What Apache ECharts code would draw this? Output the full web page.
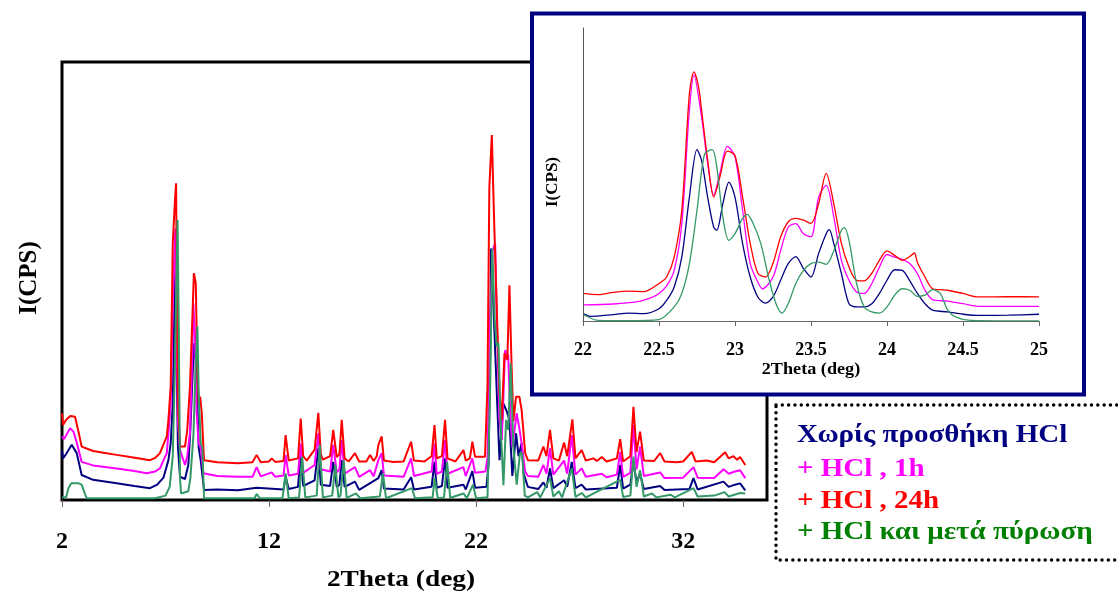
<!DOCTYPE html>
<html>
<head>
<meta charset="utf-8">
<script src="https://cdn.jsdelivr.net/npm/echarts@6/dist/echarts.min.js"></script>
<style>html,body{margin:0;padding:0;background:#fff;}#c{width:1118px;height:596px;}</style>
</head>
<body>
<div id="c"></div>
<script>
// ---------- DATA ----------
const seriesNames = ['Χωρίς προσθήκη HCl', '+ HCl , 1h', '+ HCl , 24h', '+ HCl και μετά πύρωση'];
const mainTicks = [2, 12, 22, 32];
const insetTicks = [22, 22.5, 23, 23.5, 24, 24.5, 25];

// main pattern [2theta, intensity]
const mainNavy = [[2.0,11.4],[2.05,9.5],[2.2,10.5],[2.47,12.6],[2.71,10.7],[2.95,5.7],[3.5,4.6],[4.64,3.8],[5.5,3.2],[6.25,2.7],[6.6,3.5],[6.9,5.1],[7.14,9.1],[7.25,13],[7.35,22],[7.46,53.3],[7.52,35],[7.6,12],[7.7,5.3],[7.94,4.8],[8.1,8],[8.2,16],[8.37,35.8],[8.5,30],[8.6,12],[8.7,9],[8.86,2.3],[9.5,2.4],[10.5,2.2],[11.4,2.8],[12.7,2.4],[12.8,5.3],[12.95,2.5],[13.4,3],[13.53,10.7],[13.65,3.2],[14.2,4.5],[14.38,11.8],[14.5,3.5],[14.95,3.2],[15.1,8.7],[15.27,3],[15.4,3.5],[15.51,9.1],[15.65,3],[16.15,4.2],[16.35,2.3],[17.28,5],[17.44,6.8],[17.55,2.6],[18.5,2.4],[18.86,5.2],[19.0,2.4],[19.85,3],[19.99,8.7],[20.1,2.8],[20.35,3.2],[20.5,9.5],[20.62,2.8],[21.39,3.5],[21.5,2.4],[21.82,6.6],[21.95,2.8],[22.5,3],[22.6,8],[22.68,33.5],[22.72,57.4],[22.84,44.1],[23.0,24.4],[23.13,9.1],[23.32,22],[23.5,20],[23.61,18.3],[23.75,5.5],[23.93,15.2],[24.05,10],[24.2,13],[24.3,6],[24.5,3],[25.0,2.5],[25.25,4],[25.4,2.8],[25.57,7.2],[25.73,2.7],[26.25,4.5],[26.4,3],[26.62,8.7],[26.8,2.7],[27.1,3.5],[27.3,2.4],[28.8,2.8],[28.96,8],[29.1,2.6],[29.45,3.5],[29.6,8.7],[29.75,4],[29.92,6],[30.1,2.5],[30.89,3.2],[31.1,2.3],[32.3,2.5],[32.5,5],[32.7,2.4],[33.95,4.2],[34.2,3],[34.5,3.5],[34.75,3.8],[35.0,2.2]];
const mainMagenta = [[2.0,14.5],[2.1,13.9],[2.39,16.4],[2.55,15.6],[2.71,13.2],[2.95,8.7],[3.5,7.9],[4.64,7.2],[5.5,6.6],[6.09,6.1],[6.5,6.5],[6.73,7.2],[7.06,10.7],[7.14,15.2],[7.25,22],[7.35,45],[7.47,62],[7.53,40],[7.6,18],[7.7,11.4],[7.94,8],[8.05,10],[8.18,15.5],[8.3,34.2],[8.34,44.9],[8.42,38],[8.5,20],[8.6,13],[8.7,12],[8.83,6.1],[9.5,5.5],[10.5,5.3],[11.2,5.3],[11.4,7.5],[11.6,5.4],[12.13,6.3],[12.3,5.3],[12.7,5.6],[12.8,10.3],[12.95,5.6],[13.4,6],[13.53,12.9],[13.65,6.2],[14.2,8],[14.38,15.2],[14.5,7],[14.95,6.5],[15.1,12.6],[15.27,6.3],[15.4,7],[15.51,13.7],[15.65,6],[16.15,7.5],[16.35,5.3],[16.88,6.8],[17.05,5.4],[17.28,9.1],[17.44,10.7],[17.55,5.6],[18.5,5.3],[18.86,9.5],[19.0,5.5],[19.85,6.5],[19.99,12.9],[20.1,6],[20.35,6.5],[20.5,13.7],[20.62,6],[21.39,7.5],[21.5,5.5],[21.82,9.5],[21.95,6.2],[22.45,6.5],[22.55,9.5],[22.68,41],[22.8,57],[22.92,58.6],[23.0,41],[23.13,18.3],[23.24,13.7],[23.4,34.2],[23.55,33],[23.65,20],[23.75,12.2],[23.96,19.8],[24.1,16],[24.2,13],[24.37,6.5],[24.5,5.5],[25.0,5.3],[25.25,8],[25.4,6],[25.57,11.8],[25.73,5.8],[26.25,9],[26.4,6],[26.62,14.8],[26.8,5.8],[27.1,7.2],[27.3,5.3],[28.07,6],[28.3,5.2],[28.8,5.8],[28.96,11],[29.1,5.3],[29.45,6.2],[29.6,17.1],[29.75,7],[29.92,12.2],[30.1,5.5],[30.89,6.3],[31.1,5.0],[32.0,5.1],[32.5,7.5],[32.7,5.1],[33.5,5.0],[33.95,7],[34.2,6],[34.5,6.5],[34.75,6.8],[35.0,5.0]];
const mainRed = [[2.0,19.8],[2.05,17.1],[2.2,18.3],[2.4,19.2],[2.63,19.0],[2.8,15.5],[2.95,12.2],[3.5,11.2],[4.0,10.8],[4.64,10.3],[5.3,9.8],[6.25,9.1],[6.5,9.6],[6.73,10.7],[7.06,14.5],[7.14,18.3],[7.25,25.9],[7.35,58.6],[7.45,68],[7.51,72.3],[7.56,40],[7.62,20],[7.7,12.2],[7.94,12.2],[8.05,16],[8.18,25.9],[8.31,43.4],[8.37,51.8],[8.46,49.5],[8.54,29.7],[8.6,22],[8.67,23.6],[8.75,19.9],[8.86,9.1],[9.5,8.6],[10.5,8.4],[11.2,8.6],[11.4,10.3],[11.6,8.6],[12.0,8.8],[12.13,9.5],[12.3,8.7],[12.7,8.9],[12.8,14.8],[12.95,9.0],[13.4,9.5],[13.53,18.6],[13.65,10],[13.82,9.0],[14.2,11.5],[14.38,19.9],[14.5,10.5],[14.6,9.2],[14.95,10],[15.1,16],[15.27,9.8],[15.4,10.5],[15.51,18.3],[15.65,9.5],[15.85,8.8],[16.15,10.7],[16.35,8.8],[16.7,8.8],[16.88,10.3],[17.05,8.9],[17.2,10],[17.28,12.6],[17.44,14.5],[17.55,9],[18.0,8.7],[18.5,8.8],[18.86,13.3],[19.0,9],[19.5,8.8],[19.85,10],[19.99,17.1],[20.1,9.5],[20.35,10],[20.5,18.3],[20.62,9.5],[21.0,8.8],[21.39,11.4],[21.5,9],[21.7,9.5],[21.82,13.3],[21.95,9.9],[22.43,9.9],[22.55,25.9],[22.64,71.5],[22.76,83.3],[22.87,63.9],[23.0,43.4],[23.13,24.4],[23.24,18.3],[23.37,33.5],[23.51,32],[23.61,49],[23.72,29.7],[23.8,18],[23.93,23.6],[24.09,23.6],[24.2,20.5],[24.37,10.7],[24.5,9.1],[25.0,9],[25.25,12.2],[25.4,10],[25.57,16],[25.73,9.5],[26.0,9],[26.25,13.1],[26.4,10],[26.65,18.4],[26.8,9.5],[27.1,11.4],[27.3,9],[27.67,9.5],[27.83,8.9],[28.07,9.8],[28.3,8.8],[28.8,9.5],[28.96,13.9],[29.1,8.8],[29.45,10],[29.6,21.3],[29.75,11],[29.92,15.6],[30.1,9],[30.6,8.9],[30.89,10.7],[31.1,8.8],[31.7,8.6],[32.0,8.8],[32.42,11],[32.6,8.8],[33.14,9.0],[33.5,8.6],[34.03,10.9],[34.2,9.5],[34.43,10],[34.6,9.2],[34.75,9.8],[35.0,8.0]];
const mainGreen = [[2.0,0.6],[2.2,0.6],[2.31,2.7],[2.45,3.8],[2.8,3.8],[2.95,3.5],[3.1,1.5],[3.19,0.4],[5.5,0.4],[6.5,0.4],[7.0,1],[7.2,3],[7.35,10],[7.45,30],[7.58,63.9],[7.64,40],[7.7,5],[7.75,1.5],[8.1,2],[8.2,5],[8.35,15],[8.45,30],[8.54,39.6],[8.6,25],[8.7,13],[8.78,12],[8.86,0.4],[11.3,0.4],[11.4,1.4],[11.55,0.4],[12.65,0.4],[12.8,6.1],[12.95,0.4],[13.45,0.6],[13.6,9.9],[13.75,0.6],[14.3,1],[14.45,12.6],[14.6,0.6],[15.05,1],[15.2,8],[15.35,0.6],[15.45,1],[15.6,9.1],[15.75,0.5],[16.2,1.5],[16.4,0.4],[17.35,0.8],[17.5,6.1],[17.65,0.4],[18.9,2.7],[19.05,0.4],[19.9,0.6],[20.0,5.0],[20.15,0.4],[20.45,0.6],[20.6,8.7],[20.75,0.5],[21.4,1.5],[21.55,0.4],[21.85,3.5],[22.0,0.4],[22.55,0.6],[22.68,25.9],[22.78,57.4],[22.9,41],[23.0,35],[23.08,35.8],[23.2,15.2],[23.32,3.4],[23.45,18.3],[23.55,16],[23.67,31.2],[23.8,12],[23.96,3.5],[24.12,10.7],[24.22,10.7],[24.35,1],[24.5,0.6],[24.95,1.8],[25.1,0.6],[25.57,5],[25.73,0.8],[26.0,2],[26.15,0.6],[26.62,7.2],[26.8,0.7],[27.1,1.6],[27.3,0.6],[28.96,4.6],[29.1,0.7],[29.45,1],[29.6,9.9],[29.75,3],[29.92,6.8],[30.1,0.8],[30.5,1.5],[30.7,0.6],[31.4,1.2],[31.6,0.6],[32.5,2.7],[32.7,0.8],[33.5,1],[34.0,1.8],[34.2,0.8],[34.75,1.6],[35.0,1.5]];

// inset pattern (22–25 deg) [2theta, intensity]
const insetNavy = [[22.0,2.5],[22.05,1.6],[22.2,2.2],[22.3,2.7],[22.4,2.5],[22.5,4.2],[22.55,7],[22.6,11.6],[22.65,21.8],[22.7,42.3],[22.75,58.5],[22.78,54.8],[22.82,42.3],[22.86,32],[22.88,31],[22.92,40],[22.96,47.4],[23.0,42.3],[23.05,26.4],[23.1,15],[23.15,8.2],[23.2,6.1],[23.25,8.2],[23.3,13.9],[23.35,19.6],[23.4,22],[23.45,17.9],[23.5,15],[23.55,23],[23.6,29.8],[23.62,31.2],[23.65,26.4],[23.7,16.2],[23.75,5.9],[23.8,4.8],[23.85,4.8],[23.9,5.9],[23.95,9.4],[24.0,13.9],[24.05,17.5],[24.1,17.3],[24.15,13.7],[24.2,9.4],[24.25,5.9],[24.3,3.7],[24.4,3.1],[24.5,2.3],[24.6,1.9],[24.8,2.0],[25.0,2.3]];
const insetMagenta = [[22.0,5.5],[22.2,5.8],[22.35,6.5],[22.45,8],[22.5,9.4],[22.55,12],[22.6,17.3],[22.65,33.2],[22.7,72],[22.73,83.9],[22.78,69.6],[22.82,53.8],[22.86,42.9],[22.9,50.3],[22.95,59.6],[23.0,56],[23.05,37.8],[23.1,19.6],[23.15,13.3],[23.18,11],[23.25,15],[23.3,24],[23.35,32],[23.4,33.2],[23.45,29.8],[23.5,28.7],[23.55,42.3],[23.6,46.3],[23.65,35.5],[23.7,20.7],[23.75,13.9],[23.8,9.9],[23.85,9.4],[23.9,12.8],[23.95,18.4],[24.0,22.7],[24.05,21.8],[24.1,21],[24.15,19.6],[24.2,16.2],[24.25,10.5],[24.3,7.3],[24.4,6.8],[24.5,5.9],[24.6,5],[25.0,5]];
const insetRed = [[22.0,9.4],[22.1,9.0],[22.2,9.8],[22.3,10.2],[22.4,10.0],[22.5,12.8],[22.55,15],[22.6,21.8],[22.65,37.8],[22.7,77.6],[22.73,85],[22.76,80],[22.78,72],[22.82,55],[22.86,42.3],[22.9,49],[22.95,58],[23.0,56.5],[23.05,42.3],[23.1,26.5],[23.15,16.3],[23.2,15],[23.25,19.7],[23.3,28.7],[23.35,33.8],[23.4,35],[23.45,34.4],[23.5,33.3],[23.55,40],[23.6,50.4],[23.65,40],[23.7,26.5],[23.75,18.4],[23.8,13.9],[23.85,13.7],[23.9,16.3],[23.95,20.7],[24.0,23.9],[24.05,22.4],[24.1,20.7],[24.15,22],[24.18,23.2],[24.2,20],[24.25,15],[24.3,11],[24.35,10.7],[24.4,10.5],[24.5,9.4],[24.6,8.2],[24.8,8.3],[25.0,8.2]];
const insetGreen = [[22.0,2.3],[22.1,0.2],[22.3,0.1],[22.5,0.5],[22.6,4.8],[22.65,9.4],[22.7,19.6],[22.75,37.8],[22.8,57],[22.85,58.5],[22.88,52.6],[22.92,35.5],[22.96,27.5],[23.0,29.8],[23.05,35],[23.08,36.4],[23.12,33.2],[23.17,26.4],[23.22,15],[23.27,5.9],[23.31,2.7],[23.35,5.9],[23.4,12.8],[23.45,17.3],[23.5,19.6],[23.55,20.1],[23.6,19.3],[23.65,24],[23.7,31],[23.72,31.9],[23.75,27.5],[23.8,12.8],[23.85,4.8],[23.9,3.1],[23.95,2.7],[24.0,4.8],[24.05,8.8],[24.1,11],[24.15,10.5],[24.2,8.4],[24.25,8.8],[24.3,10.7],[24.35,9.4],[24.4,3.7],[24.45,1.4],[24.55,0.2],[25.0,0]];

// ---------- STYLE ----------
const FONT = '"Liberation Serif", "Times New Roman", serif';
const lineColors = ['#000080', '#FF00FF', '#FF0000', '#339966'];
const textColors = ['#000080', '#FF00FF', '#FF0000', '#008000'];

const mainData = [mainNavy, mainMagenta, mainRed, mainGreen];
const insetData = [insetNavy, insetMagenta, insetRed, insetGreen];

const series = [];
mainData.forEach((d, i) => series.push({
  type: 'line', name: seriesNames[i], xAxisIndex: 0, yAxisIndex: 0, data: d,
  showSymbol: false, lineStyle: { color: lineColors[i], width: 2 }, z: 2, silent: true, animation: false
}));
insetData.forEach((d, i) => series.push({
  type: 'line', name: seriesNames[i] + ' (inset)', xAxisIndex: 1, yAxisIndex: 1, data: d,
  showSymbol: false, smooth: 0.3, lineStyle: { color: lineColors[i], width: 1.3 }, z: 4, silent: true, animation: false
}));

const legendY = [436, 470, 502, 533];

function txt(t, x, y, size, opts) {
  opts = opts || {};
  return {
    type: 'text', z: 6, x: x, y: y, rotation: opts.rotation || 0,
    scaleX: opts.sx || 1, scaleY: 1,
    style: { text: t, x: 0, y: 0, align: opts.align || 'center', verticalAlign: 'middle',
             font: 'bold ' + size + 'px ' + FONT, fill: opts.fill || '#000' }
  };
}

const option = {
  animation: false,
  backgroundColor: '#ffffff',
  grid: [
    { left: 62, top: 62, width: 705, height: 438, show: true, borderColor: '#000', borderWidth: 3, backgroundColor: 'transparent' },
    { left: 583, top: 28, width: 456, height: 293, show: false }
  ],
  xAxis: [
    { type: 'value', gridIndex: 0, min: 2, max: 36.05,
      axisLine: { show: false }, splitLine: { show: false },
      axisTick: { show: true, customValues: mainTicks, length: 7, lineStyle: { color: '#666', width: 1 } },
      axisLabel: { customValues: mainTicks, margin: 30, fontFamily: FONT, fontWeight: 'bold', fontSize: 24, color: '#000' } },
    { type: 'value', gridIndex: 1, min: 22, max: 25, interval: 0.5, z: 5,
      axisLine: { show: true, lineStyle: { color: '#666', width: 1 } }, splitLine: { show: false },
      axisTick: { show: true, customValues: insetTicks, length: 5, lineStyle: { color: '#666', width: 1 } },
      axisLabel: { customValues: insetTicks, margin: 20, fontFamily: FONT, fontWeight: 'bold', fontSize: 18, color: '#000' } }
  ],
  yAxis: [
    { type: 'value', gridIndex: 0, min: 0, max: 100,
      axisLine: { show: false }, axisTick: { show: false }, axisLabel: { show: false }, splitLine: { show: false } },
    { type: 'value', gridIndex: 1, min: 0, max: 100, z: 5,
      axisLine: { show: true, lineStyle: { color: '#555', width: 1 } }, axisTick: { show: false }, axisLabel: { show: false }, splitLine: { show: false } }
  ],
  graphic: [
    { type: 'rect', z: 1, shape: { x: 532, y: 13.5, width: 552, height: 381 },
      style: { fill: '#fff', stroke: '#000080', lineWidth: 4 }, silent: true },
    { type: 'rect', z: 1, shape: { x: 776, y: 405, width: 360, height: 155 },
      style: { fill: 'transparent', stroke: '#000', lineWidth: 3.5, lineDash: [0.01, 6.3], lineCap: 'round' }, silent: true },
    txt('2Theta (deg)', 401, 580, 24, { sx: 1.14 }),
    txt('I(CPS)', 30, 278, 25, { rotation: Math.PI / 2 }),
    txt('2Theta (deg)', 811, 370, 17, { sx: 1.07 }),
    txt('I(CPS)', 553, 182, 17, { rotation: Math.PI / 2 })
  ].concat(seriesNames.map((n, i) => txt(n, 797, legendY[i], 25, { align: 'left', sx: 1.16, fill: textColors[i] }))),
  series: series
};

const chart = echarts.init(document.getElementById('c'), null, { renderer: 'canvas' });
chart.setOption(option);
</script>
</body>
</html>
